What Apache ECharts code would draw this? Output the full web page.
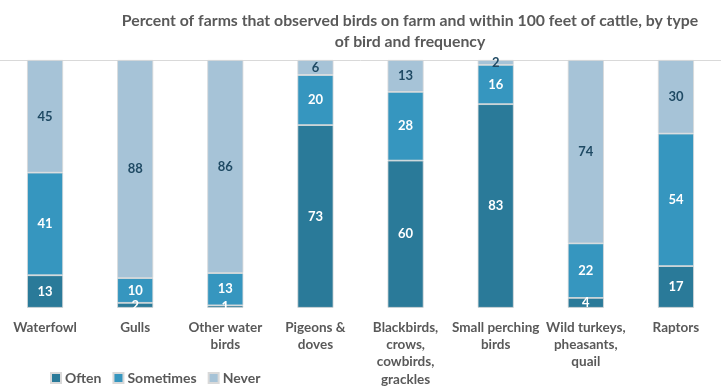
<!DOCTYPE html>
<html>
<head>
<meta charset="utf-8">
<script src="https://cdn.jsdelivr.net/npm/echarts@6/dist/echarts.min.js"></script>
<style>html,body{margin:0;padding:0;background:#fff}#c{width:721px;height:388px}</style>
</head>
<body>
<div id="c"></div>
<script>
var categories = ["Waterfowl", "Gulls", "Other water\nbirds", "Pigeons &\ndoves", "Blackbirds,\ncrows,\ncowbirds,\ngrackles", "Small perching\nbirds", "Wild turkeys,\npheasants,\nquail", "Raptors"];
var often = [13, 2, 1, 73, 60, 83, 4, 17];
var sometimes = [41, 10, 13, 20, 28, 16, 22, 54];
var never = [45, 88, 86, 6, 13, 2, 74, 30];
var seriesNames = ["Often", "Sometimes", "Never"];
var colors = ["#2a7a99", "#3696bf", "#a6c3d7"];
var labelColors = ["#ffffff", "#ffffff", "#1f4a64"];

var all = [often, sometimes, never];
var totals = categories.map(function (_, i) { return often[i] + sometimes[i] + never[i]; });
var font = "Lato";

var series = all.map(function (arr, si) {
  var s = {
    name: seriesNames[si],
    type: "bar",
    stack: "total",
    barWidth: "40%",
    itemStyle: { color: colors[si], borderColor: "#d9d9d9", borderWidth: 0.8 },
    label: {
      show: true,
      position: "inside",
      color: labelColors[si],
      fontFamily: font,
      fontWeight: "bold",
      fontSize: 13,
      formatter: function (p) { return p.data.raw; }
    },
    data: arr.map(function (v, i) { return { value: v / totals[i] * 100, raw: v }; })
  };
  if (si === 0) {
    s.markLine = {
      silent: true, symbol: "none", label: { show: false },
      lineStyle: { color: "#d9d9d9", type: "solid", width: 1 },
      data: [{ yAxis: 100 }], z: 0
    };
  }
  return s;
});

var chart = echarts.init(document.getElementById("c"));
chart.setOption({
  animation: false,
  color: colors,
  title: {
    text: "Percent of farms that observed birds on farm and within 100 feet of cattle, by type\nof bird and frequency",
    left: 410,
    textAlign: "center",
    top: 10,
    padding: 0,
    textStyle: { fontFamily: font, fontWeight: "bold", fontSize: 15.8, color: "#595959", lineHeight: 21 }
  },
  legend: {
    data: seriesNames,
    left: 50,
    top: 371,
    padding: 0,
    itemWidth: 10,
    itemHeight: 10,
    itemGap: 11,
    icon: "rect",
    textStyle: { fontFamily: font, fontWeight: "bold", fontSize: 14, color: "#595959", padding: [0, 0, 0, -1] }
  },
  grid: { left: -2, right: -7, top: 60, bottom: 79, containLabel: false },
  xAxis: {
    type: "category",
    data: categories,
    axisLine: { show: false },
    axisTick: { show: false },
    axisLabel: { interval: 0, margin: 11, fontFamily: font, fontWeight: "bold", fontSize: 13.5, color: "#595959", lineHeight: 17.3 }
  },
  yAxis: {
    type: "value", min: 0, max: 100, show: false,
    splitLine: { show: false }
  },
  series: series
});
</script>
</body>
</html>
